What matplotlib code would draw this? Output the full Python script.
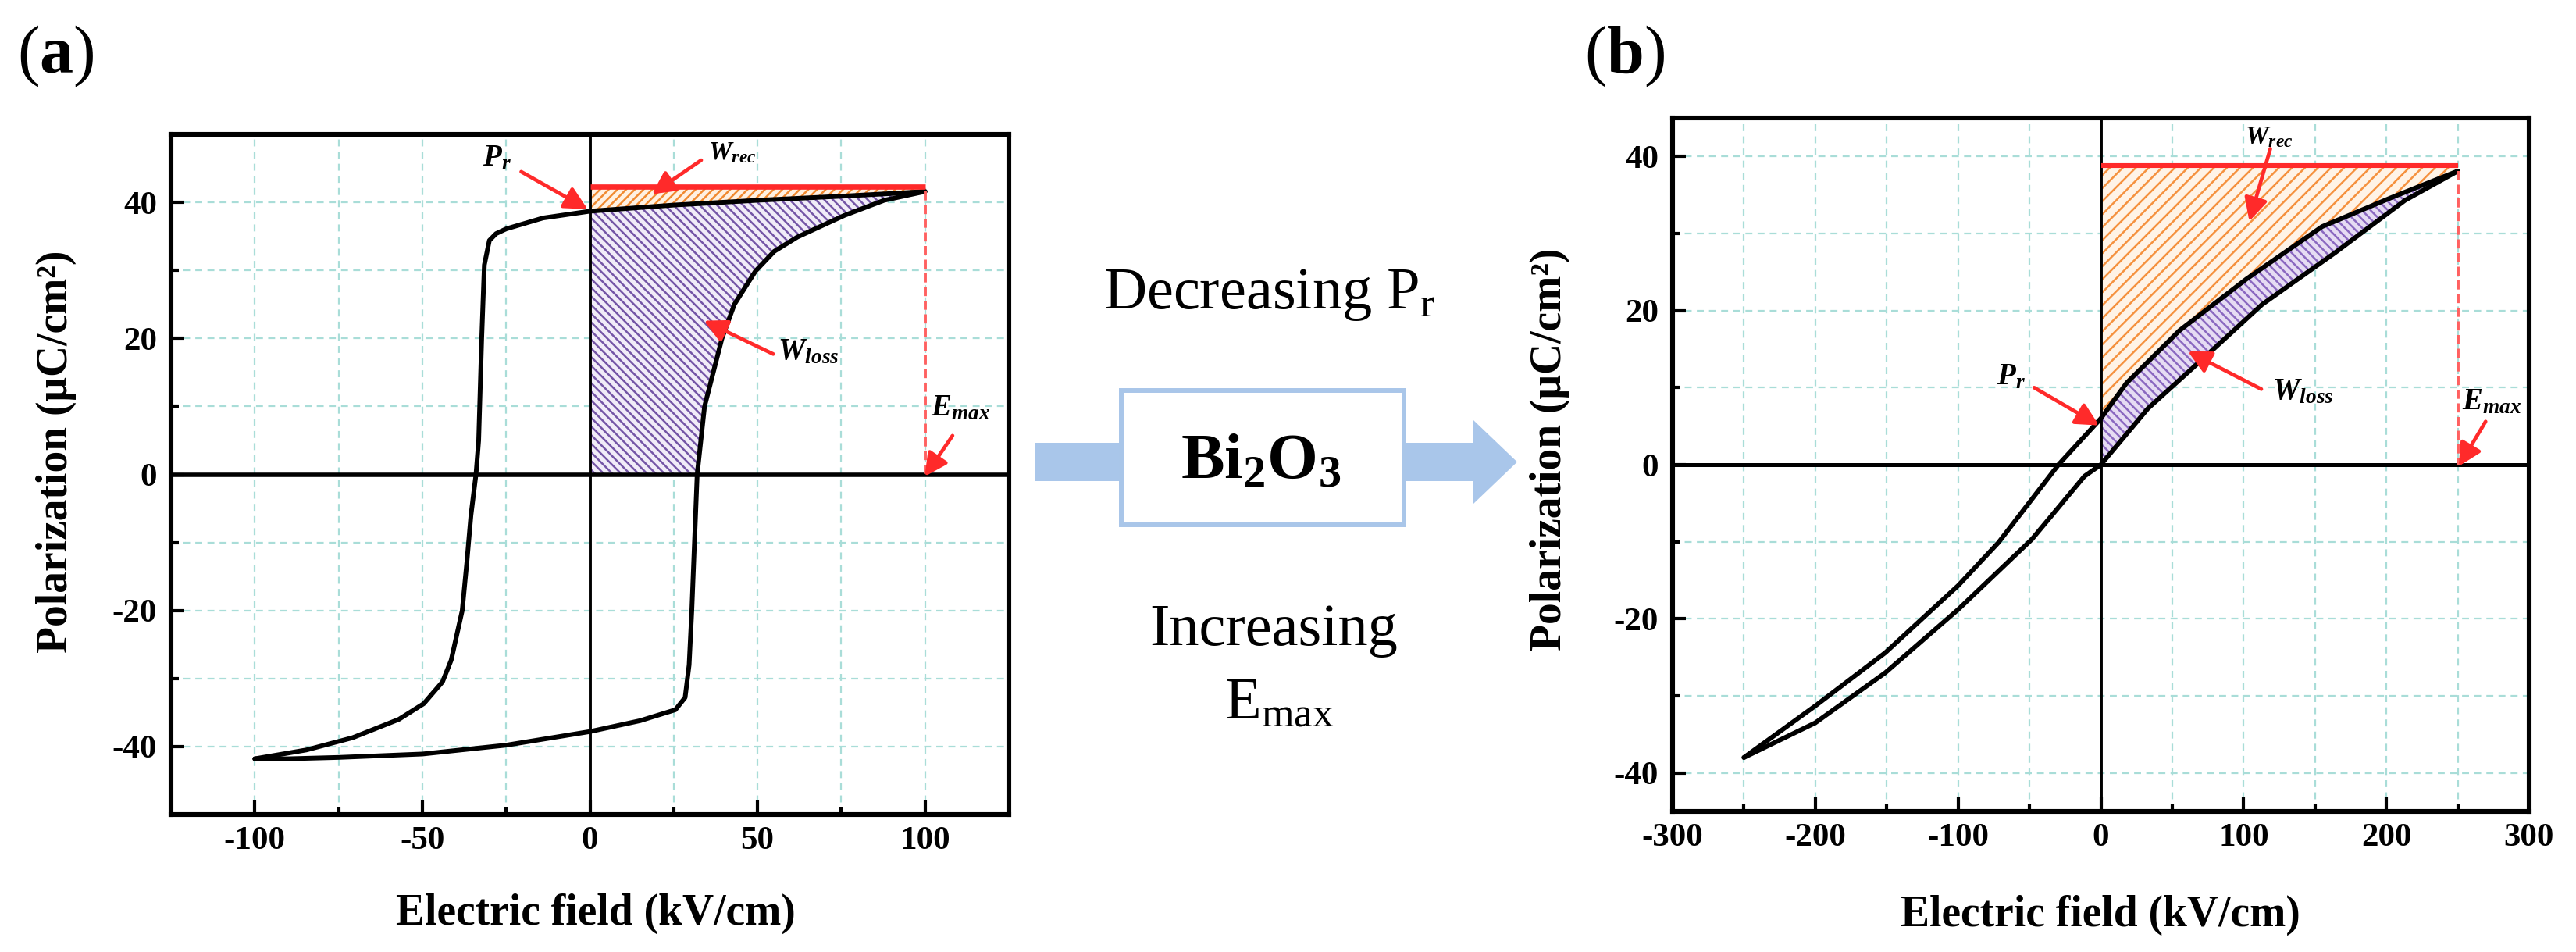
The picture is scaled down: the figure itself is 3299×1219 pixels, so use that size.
import numpy as np
import matplotlib
matplotlib.use("Agg")
import matplotlib.pyplot as plt
from matplotlib.patches import Polygon, Rectangle
from matplotlib.ticker import MultipleLocator

plt.rcParams.update({
    "font.family": ["Liberation Serif", "DejaVu Serif"],
    "mathtext.fontset": "custom",
    "mathtext.rm": "Liberation Serif",
    "mathtext.bf": "Liberation Serif:bold",
    "mathtext.it": "Liberation Serif:italic",
    "axes.unicode_minus": False,
    "hatch.linewidth": 1.8,
})

# ---------------- data: panel (a) ----------------
a_desc_E = [100, 90, 75, 50, 25, 0, -14, -25, -28, -30, -31.5, -32.3, -33.2, -34, -35.5,
            -36.7, -38.1, -41.4, -44, -49.6, -57, -70.8, -84.6, -100]
a_desc_P = [41.6, 41.3, 40.9, 40.3, 39.6, 38.7, 37.7, 36.1, 35.4, 34.4, 30.8, 19.9, 5, 0, -6,
            -12.8, -20, -27.3, -30.5, -33.7, -36, -38.7, -40.5, -41.8]
a_asc_E = [-100, -90, -75, -50, -25, 0, 15, 25.5, 28.4, 29.6, 30.4, 31.2, 32, 34.2,
           39.4, 43.1, 49.4, 55, 61.9, 76, 87.8, 100]
a_asc_P = [-41.8, -41.8, -41.6, -41.1, -39.8, -37.8, -36.2, -34.6, -32.8, -28, -20, -10,
           0, 10, 20, 25, 29.9, 32.8, 34.9, 38.1, 40.3, 41.6]
a_Emax = 100
a_Ptop = 42.3
a_xticks = [-100, -50, 0, 50, 100]
a_yticks = [-40, -20, 0, 20, 40]

# ---------------- data: panel (b) ----------------
b_desc_E = [250, 204, 155, 102, 55, 18, 0, -29.7, -71.7, -100, -151, -200, -250]
b_desc_P = [38.1, 34.7, 30.9, 24.1, 17.4, 10.6, 6.0, 0, -10.1, -15.7, -24.4, -31.3, -38]
b_asc_E = [-250, -200, -151, -100, -48.4, -11.5, 0, 33, 73, 113, 164, 213, 250]
b_asc_P = [-38, -33.5, -27, -18.8, -9.7, -1.5, 0, 7.3, 14, 20.8, 27.5, 34.3, 38.1]
b_Emax = 250
b_Ptop = 38.8
b_xticks = [-300, -200, -100, 0, 100, 200, 300]
b_yticks = [-40, -20, 0, 20, 40]

xlabel = "Electric field (kV/cm)"
ylabel = "Polarization (\u03bcC/cm\u00b2)"

W, H = 3299, 1219
fig = plt.figure(figsize=(W / 100, H / 100), dpi=100)
fig.patch.set_facecolor("white")

def fx(x):
    return x / W

def fy(y):
    return 1 - y / H

axA = fig.add_axes([fx(219), fy(1043), (1292 - 219) / W, (1043 - 172) / H])
axB = fig.add_axes([fx(2142), fy(1039), (3239 - 2142) / W, (1039 - 151) / H])

GRID = "#a9ddd8"
RED = "#ff2a2a"
CURVE_LW = 4.3


def style(ax, xlim, ylim, xt, yt, xminor, yminor):
    ax.set_xlim(xlim)
    ax.set_ylim(ylim)
    ax.set_xticks(xt)
    ax.set_xticklabels([str(v) for v in xt], fontweight="bold", fontsize=31)
    ax.set_yticks(yt)
    ax.set_yticklabels([str(v) for v in yt], fontweight="bold", fontsize=31)
    ax.xaxis.set_minor_locator(MultipleLocator(xminor))
    ax.yaxis.set_minor_locator(MultipleLocator(yminor))
    ax.set_axisbelow(True)
    ax.grid(True, which="both", color=GRID, ls=(0, (4, 3)), lw=1.6)
    ax.tick_params(which="both", direction="in", top=False, right=False, width=3.0)
    ax.tick_params(axis="x", which="major", length=13, pad=11)
    ax.tick_params(axis="y", which="major", length=12, pad=13)
    ax.tick_params(which="minor", length=7)
    for s in ax.spines.values():
        s.set_linewidth(4.4)


style(axA, (-125, 125), (-50, 50), a_xticks, a_yticks, 25, 10)
style(axB, (-300, 300), (-45, 45), b_xticks, b_yticks, 50, 10)

# ---------------- panel (a) ----------------
aDE, aDP = np.array(a_desc_E), np.array(a_desc_P)
aAE, aAP = np.array(a_asc_E), np.array(a_asc_P)
m_up = aDE >= 0
up_E, up_P = aDE[m_up][::-1], aDP[m_up][::-1]          # from E=0 to Emax
m_as = aAP >= 0
as_E, as_P = aAE[m_as], aAP[m_as]                      # from P=0 to Pmax
loss_a = [(0, 0)] + list(zip(as_E, as_P)) + list(zip(up_E[::-1], up_P[::-1]))
rec_a = list(zip(up_E, up_P)) + [(a_Emax, a_Ptop), (0, a_Ptop)]
axA.add_patch(Polygon(loss_a, closed=True, facecolor="#f1ecf8", edgecolor="#7455a6",
                      hatch="\\\\\\", lw=0, zorder=2))
axA.add_patch(Polygon(rec_a, closed=True, facecolor="#fff1e2", edgecolor="#f08a30",
                      hatch="///", lw=0, zorder=2))
axA.axhline(0, color="black", lw=4.0, zorder=4)
axA.axvline(0, color="black", lw=2.8, zorder=4)
axA.plot(a_desc_E, a_desc_P, color="black", lw=CURVE_LW, solid_joinstyle="round",
         solid_capstyle="round", zorder=5)
axA.plot(a_asc_E, a_asc_P, color="black", lw=CURVE_LW, solid_joinstyle="round",
         solid_capstyle="round", zorder=5)
axA.plot([0, a_Emax], [a_Ptop, a_Ptop], color=RED, lw=4.8, zorder=6, solid_capstyle="butt")
axA.plot([a_Emax, a_Emax], [aDP[0], 0], color="#ff6060", lw=2.8, ls=(0, (3, 1.5)), zorder=6)

arrow_kw = dict(arrowstyle="-|>,head_length=0.55,head_width=0.28", color=RED, lw=3.4,
                mutation_scale=32, shrinkA=0, shrinkB=0)
lab_kw = dict(fontweight="bold", fontstyle="italic", ha="left", va="baseline", zorder=8)

axA.text(-32, 45.4, r"$\mathregular{P_r}$", fontsize=28, **lab_kw)
axA.annotate("", xy=(-0.7, 39), xytext=(-20.5, 44.5), arrowprops=arrow_kw, zorder=7)
axA.text(35.3, 46.3, r"$\mathregular{W_{rec}}$", fontsize=24, **lab_kw)
axA.annotate("", xy=(18.5, 41.2), xytext=(33.2, 46.2), arrowprops=arrow_kw, zorder=7)
axA.text(56, 16.9, r"$\mathregular{W_{loss}}$", fontsize=28, **lab_kw)
axA.annotate("", xy=(34, 22.6), xytext=(54.7, 17.7), arrowprops=arrow_kw, zorder=7)
axA.text(101.6, 8.6, r"$\mathregular{E_{max}}$", fontsize=28, **lab_kw)
axA.annotate("", xy=(99.9, -0.3), xytext=(108.2, 5.7), arrowprops=arrow_kw, zorder=7)

# ---------------- panel (b) ----------------
bDE, bDP = np.array(b_desc_E), np.array(b_desc_P)
bAE, bAP = np.array(b_asc_E), np.array(b_asc_P)
mu = bDE >= 0
bu_E, bu_P = bDE[mu][::-1], bDP[mu][::-1]
ml = bAE >= 0
bl_E, bl_P = bAE[ml], bAP[ml]
loss_b = list(zip(bu_E, bu_P)) + list(zip(bl_E[::-1], bl_P[::-1]))
rec_b = list(zip(bu_E, bu_P)) + [(b_Emax, b_Ptop), (0, b_Ptop)]
axB.add_patch(Polygon(loss_b, closed=True, facecolor="#e6dcf3", edgecolor="#8a68c0",
                      hatch="\\\\\\", lw=0, zorder=2))
axB.add_patch(Polygon(rec_b, closed=True, facecolor="#fff3e6", edgecolor="#f5913e",
                      hatch="//", lw=0, zorder=2))
axB.axhline(0, color="black", lw=3.6, zorder=4)
axB.axvline(0, color="black", lw=2.8, zorder=4)
axB.plot(b_desc_E, b_desc_P, color="black", lw=CURVE_LW, solid_joinstyle="round",
         solid_capstyle="round", zorder=5)
axB.plot(b_asc_E, b_asc_P, color="black", lw=CURVE_LW, solid_joinstyle="round",
         solid_capstyle="round", zorder=5)
axB.plot([0, b_Emax], [b_Ptop, b_Ptop], color=RED, lw=4.4, zorder=6, solid_capstyle="butt")
axB.plot([b_Emax, b_Emax], [bDP[0], 0], color="#ff6060", lw=2.8, ls=(0, (3, 1.5)), zorder=6)

axB.text(-73, 10.4, r"$\mathregular{P_r}$", fontsize=28, **lab_kw)
axB.annotate("", xy=(-1.3, 5.1), xytext=(-46.7, 10), arrowprops=arrow_kw, zorder=7)
axB.text(100.7, 41.6, r"$\mathregular{W_{rec}}$", fontsize=24, **lab_kw)
axB.annotate("", xy=(104, 31.6), xytext=(118.7, 41), arrowprops=arrow_kw, zorder=7)
axB.text(119.8, 8.5, r"$\mathregular{W_{loss}}$", fontsize=28, **lab_kw)
axB.annotate("", xy=(61, 14.7), xytext=(112.4, 9.8), arrowprops=arrow_kw, zorder=7)
axB.text(252.8, 7.2, r"$\mathregular{E_{max}}$", fontsize=28, clip_on=True, **lab_kw)
axB.annotate("", xy=(250.7, -0.2), xytext=(269.5, 5.6), arrowprops=arrow_kw, zorder=7)

# ---------------- axis labels & panel labels ----------------
fig.text(fx(763), fy(1184), xlabel, ha="center", va="baseline", fontsize=40, fontweight="bold")
fig.text(fx(2690), fy(1186), xlabel, ha="center", va="baseline", fontsize=40, fontweight="bold")
fig.text(fx(72), fy(578), ylabel, rotation=90, ha="center", va="center", fontsize=40,
         fontweight="bold")
fig.text(fx(1985), fy(575), ylabel, rotation=90, ha="center", va="center", fontsize=40,
         fontweight="bold")
fig.text(fx(22), fy(31), r"($\mathbf{a}$)", ha="left", va="top", fontsize=62)
fig.text(fx(2029), fy(31), r"($\mathbf{b}$)", ha="left", va="top", fontsize=62)

# ---------------- middle: arrow, box and texts ----------------
arrow_px = [(1325, 567), (1887, 567), (1887, 538), (1943, 591.5), (1887, 645),
            (1887, 616), (1325, 616)]
fig.add_artist(Polygon([(fx(x), fy(y)) for x, y in arrow_px], closed=True,
                       transform=fig.transFigure, facecolor="#a9c6ea", edgecolor="none",
                       zorder=2))
fig.add_artist(Rectangle((fx(1436), fy(672)), (1798 - 1436) / W, (672 - 500) / H,
                         transform=fig.transFigure, facecolor="white", edgecolor="#a9c6e9",
                         lw=4.3, zorder=3))
fig.text(fx(1615), fy(612), r"$\mathregular{Bi_2O_3}$", ha="center", va="baseline",
         fontsize=60, fontweight="bold", zorder=4)
fig.text(fx(1625), fy(395), r"Decreasing $\mathregular{P_r}$", ha="center", va="baseline",
         fontsize=55)
fig.text(fx(1631), fy(826), "Increasing", ha="center", va="baseline", fontsize=55)
fig.text(fx(1638), fy(920), r"$\mathregular{E_{max}}$", ha="center", va="baseline", fontsize=55)

fig.savefig("out.png", dpi=100, facecolor="white")
